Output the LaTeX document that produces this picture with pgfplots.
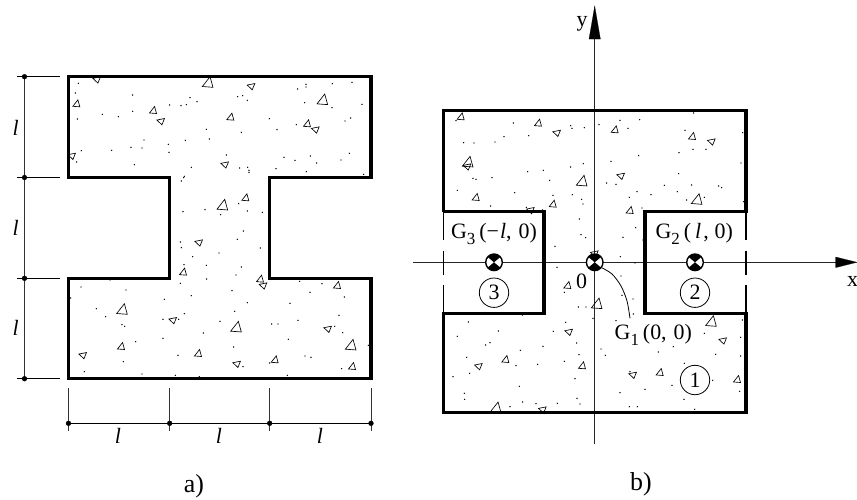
\documentclass[border=0pt]{standalone}
\usepackage{pgfplots}
\pgfplotsset{compat=1.18}
\usepackage{fontspec}
\setmainfont{Liberation Serif}
\pgfdeclareplotmark{trU}{%
\pgfpathmoveto{\pgfqpoint{-\pgfplotmarksize}{-.85\pgfplotmarksize}}%
\pgfpathlineto{\pgfqpoint{\pgfplotmarksize}{-\pgfplotmarksize}}%
\pgfpathlineto{\pgfqpoint{.45\pgfplotmarksize}{\pgfplotmarksize}}%
\pgfpathclose\pgfusepathqstroke}
\pgfdeclareplotmark{trL}{%
\pgfpathmoveto{\pgfqpoint{-\pgfplotmarksize}{.25\pgfplotmarksize}}%
\pgfpathlineto{\pgfqpoint{\pgfplotmarksize}{.65\pgfplotmarksize}}%
\pgfpathlineto{\pgfqpoint{.33\pgfplotmarksize}{-\pgfplotmarksize}}%
\pgfpathclose\pgfusepathqstroke}
\pgfdeclareplotmark{targ}{%
\pgfsetfillcolor{white}%
\pgfpathcircle{\pgfpointorigin}{\pgfplotmarksize}\pgfusepathqfill
\pgfsetfillcolor{black}%
\pgfpathmoveto{\pgfpointorigin}%
\pgfpathlineto{\pgfpointpolar{40}{\pgfplotmarksize}}%
\pgfpatharc{40}{140}{\pgfplotmarksize}\pgfpathclose
\pgfpathmoveto{\pgfpointorigin}%
\pgfpathlineto{\pgfpointpolar{220}{\pgfplotmarksize}}%
\pgfpatharc{220}{320}{\pgfplotmarksize}\pgfpathclose
\pgfusepathqfill
\pgfpathcircle{\pgfpointorigin}{\pgfplotmarksize}\pgfusepathqstroke}
\newcommand{\pts}[5]{\addplot[only marks,black,mark=#1,mark size=#2,mark options={solid,line width=0.65bp}] table[header=false,row sep=\\,x expr=\thisrowno{0}/3+#3,y expr=\thisrowno{1}/3+#4]{#5};}
\newcommand{\dts}[3]{\addplot[only marks,mark=*,mark size=0.45bp,draw=none,mark options={draw=none,fill=black!75}] table[header=false,row sep=\\,x expr=\thisrowno{0}/3+#1,y expr=\thisrowno{1}/3+#2]{#3};}
\newcommand{\fs}{\fontsize{22}{26}\selectfont}
\newcommand{\fl}{\fontsize{26}{30}\selectfont}
\newcommand{\sub}[1]{\raisebox{-6pt}{\fontsize{17}{20}\selectfont #1}}
\begin{document}
\begin{tikzpicture}
\useasboundingbox (0,0) rectangle (857bp,500bp);
\begin{axis}[at={(0,0)},anchor=south west,width=857bp,height=500bp,scale only axis,xmin=0,xmax=857,ymin=0,ymax=500,y dir=reverse,axis lines=none,clip=false]
% ---------- figure a: dimension lines
\addplot[black!80,line width=0.9bp] coordinates {(24.5,76.7)(24.5,378.7)};
\addplot[black,line width=0.8bp] coordinates {(17,76.7)(60,76.7)};
\addplot[black,line width=0.8bp] coordinates {(17,177.5)(60,177.5)};
\addplot[black,line width=0.8bp] coordinates {(17,278.3)(60,278.3)};
\addplot[black,line width=0.8bp] coordinates {(17,378.7)(60,378.7)};
\addplot[black,line width=0.9bp] coordinates {(68.5,423.3)(371,423.3)};
\addplot[black!80,line width=0.9bp] coordinates {(68.5,387.7)(68.5,431)};
\addplot[black!80,line width=0.9bp] coordinates {(169.7,387.7)(169.7,431)};
\addplot[black!80,line width=0.9bp] coordinates {(269.7,387.7)(269.7,431)};
\addplot[black!80,line width=0.9bp] coordinates {(371,387.7)(371,431)};
\addplot[only marks,mark=*,mark size=2.4bp,black] coordinates {(24.5,76.7)(24.5,177.5)(24.5,278.3)(24.5,378.7)(68.5,423.3)(169.7,423.3)(269.7,423.3)(371,423.3)};
% outline a
\addplot[black,line width=3.1bp,line join=miter] coordinates {(68.5,76.7)(371,76.7)(371,177.5)(269.7,177.5)(269.7,278.3)(371,278.3)(371,378.7)(68.5,378.7)(68.5,278.3)(169.7,278.3)(169.7,177.5)(68.5,177.5)(68.5,76.7)(371,76.7)};
% figure a: aggregate, upper part
\pts{trU}{5.3bp}{0}{60}{623 66\\967 118\\667 434\\}
\pts{trU}{3.5bp}{0}{60}{229 130\\459 150\\691 170\\921 190\\736 412\\}
\pts{trL}{3.8bp}{0}{60}{290 58\\753 78\\482 183\\946 208\\215 287\\674 313\\596 547\\}
\dts{0}{60}{235 70\\226 99\\398 105\\509 135\\543 137\\559 134\\570 113\\591 125\\713 110\\728 107\\742 121\\893 87\\918 73\\918 81\\997 71\\1056 67\\914 128\\996 143\\1086 133\\232 177\\307 163\\355 170\\398 154\\808 176\\889 194\\831 209\\1035 183\\1052 174\\619 208\\724 217\\628 237\\556 241\\505 253\\432 240\\393 262\\426 264\\507 277\\335 271\\244 272\\230 306\\403 314\\679 285\\852 292\\885 301\\931 288\\950 309\\1023 300\\1048 280\\574 322\\719 324\\743 322\\747 331\\747 337\\828 326\\919 335\\1091 343\\553 349\\551 353\\544 363\\549 455\\615 449\\662 464\\716 431\\742 453\\787 457\\730 513\\712 538\\541 546\\544 563\\657 579\\781 564\\578 590\\}
% figure a: aggregate, lower part
\pts{trU}{5.3bp}{0}{260}{366 147\\708 200\\1052 254\\}
\pts{trU}{3.5bp}{0}{260}{549 35\\780 56\\1011 75\\363 258\\594 279\\824 298\\1056 318\\}
\pts{trL}{3.8bp}{0}{260}{789 76\\518 180\\983 206\\248 285\\710 311\\}
\dts{0}{260}{552 14\\619 16\\724 21\\620 57\\708 45\\541 70\\574 107\\696 92\\742 128\\704 154\\493 118\\243 81\\378 90\\212 114\\330 60\\899 64\\966 71\\930 97\\1033 111\\870 130\\1017 166\\894 181\\660 184\\553 161\\536 178\\489 178\\815 192\\834 192\\1004 199\\1028 218\\289 146\\317 170\\366 194\\374 199\\610 219\\489 235\\407 245\\865 238\\701 261\\1105 256\\534 286\\370 305\\915 288\\933 292\\729 320\\809 309\\253 335\\1025 326\\426 342\\526 346\\598 350\\862 346\\}
% ---------- figure b: axes
\addplot[black!85,line width=0.8bp] coordinates {(413,262.3)(838,262.3)};
\addplot[black!85,line width=0.8bp] coordinates {(594.7,38)(594.7,444)};
\addplot[fill=black,draw=black,line width=0.2bp] coordinates {(835.7,257)(857,262.3)(835.7,267.6)(835.7,257)};
\addplot[fill=black,draw=black,line width=0.2bp] coordinates {(589,39)(594.7,6)(600.4,39)(589,39)};
% outline b
\addplot[black,line width=3.1bp] coordinates {(443.3,211.7)(443.3,110.7)(746,110.7)(746,211.7)(645,211.7)(645,313.3)(746,313.3)(746,412.7)(443.3,412.7)(443.3,313.3)(544,313.3)(544,211.7)(443.3,211.7)};
\addplot[black,line width=1.5bp] coordinates {(443.3,211.7)(443.3,240)};
\addplot[black,line width=1.5bp] coordinates {(443.3,250.7)(443.3,275)};
\addplot[black,line width=1.5bp] coordinates {(443.3,285)(443.3,313.3)};
\addplot[black,line width=1.5bp] coordinates {(746,211.7)(746,240)};
\addplot[black,line width=1.5bp] coordinates {(746,250.7)(746,275)};
\addplot[black,line width=1.5bp] coordinates {(746,285)(746,313.3)};
% figure b: aggregate
\pts{trU}{5.3bp}{400}{0}{545 542\\890 597\\203 485\\}
\pts{trU}{3.5bp}{400}{0}{182 349\\414 368\\644 388\\876 408\\227 591\\458 611\\689 630\\}
\pts{trL}{3.8bp}{400}{0}{470 398\\934 424\\662 527\\201 499\\391 630\\}
\dts{400}{0}{168 362\\340 369\\512 377\\516 385\\553 383\\597 374\\660 361\\719 359\\684 385\\855 391\\881 339\\1028 398\\191 428\\222 429\\285 426\\312 410\\386 407\\837 458\\879 448\\918 448\\716 467\\633 484\\550 491\\512 501\\1023 489\\383 515\\430 511\\449 541\\219 535\\228 538\\276 533\\620 549\\648 553\\836 521\\793 556\\875 555\\956 558\\965 563\\172 571\\344 578\\459 586\\517 584\\545 598\\549 612\\711 575\\753 584\\688 592\\832 575\\860 600\\913 592\\1031 605\\272 618\\379 622\\428 630\\726 624\\538 657\\}
\pts{trU}{5.3bp}{400}{200}{590 310\\933 363\\287 622\\}
\pts{trU}{3.5bp}{400}{200}{502 255\\316 477\\546 496\\779 516\\1011 537\\}
\pts{trL}{3.8bp}{400}{200}{583 160\\968 421\\506 395\\235 498\\698 524\\427 628\\}
\dts{400}{200}{543 104\\557 113\\465 139\\471 202\\669 112\\707 83\\729 120\\661 170\\705 189\\663 228\\493 277\\666 286\\699 297\\535 321\\558 321\\579 355\\700 342\\648 362\\497 367\\205 366\\367 345\\1027 360\\295 393\\172 409\\257 435\\270 428\\361 451\\429 439\\460 394\\530 429\\603 447\\616 466\\537 464\\493 484\\913 400\\1022 412\\1022 468\\947 463\\775 456\\820 440\\853 490\\200 472\\348 497\\413 493\\209 520\\159 530\\525 536\\358 559\\735 568\\816 556\\938 541\\660 578\\1019 574\\193 580\\194 598\\852 598\\330 620\\368 606\\408 611\\472 610\\531 595\\540 612\\688 620\\712 620\\884 628\\690 515\\}
% leader curve, centroids, numbered circles
\addplot[black,line width=0.8bp,smooth] coordinates {(601.7,267.7)(612,274)(621,286)(627,301)(630,318.3)};
\addplot[only marks,black,mark=targ,mark size=8.3bp,mark options={line width=1.4bp}] coordinates {(494,262.3)(594.7,262.3)(695,262.3)};
\addplot[only marks,black,mark=o,mark size=14.7bp,mark options={line width=0.8bp}] coordinates {(494,292.7)(695,292.7)(695,380)};
% ---------- text
\node at (axis cs:15.7,127.7) {\fs\itshape l};
\node at (axis cs:15.7,228) {\fs\itshape l};
\node at (axis cs:15.7,328) {\fs\itshape l};
\node at (axis cs:118,435.7) {\fs\itshape l};
\node at (axis cs:219,435.7) {\fs\itshape l};
\node at (axis cs:320,435.7) {\fs\itshape l};
\node at (axis cs:194,486) {\fl a)};
\node at (axis cs:641,484) {\fl b)};
\node at (axis cs:582,24) {\fs y};
\node at (axis cs:852.7,281) {\fs x};
\node at (axis cs:581.7,281.7) {\fs 0};
\node at (axis cs:494,234) {\fs G\sub{3}\hspace{4pt}(\textminus\hspace{1pt}\textit{l},\hspace{7pt}0)};
\node at (axis cs:694.3,234) {\fs G\sub{2}\hspace{4pt}(\hspace{4pt}\textit{l}\hspace{2pt},\hspace{6pt}0)};
\node at (axis cs:653.3,335) {\fs G\sub{1}\hspace{4pt}(0,\hspace{7pt}0)};
\node at (axis cs:494,292.7) {\fs 3};
\node at (axis cs:695,292.7) {\fs 2};
\node at (axis cs:695,380) {\fs 1};
\end{axis}
\end{tikzpicture}
\end{document}
